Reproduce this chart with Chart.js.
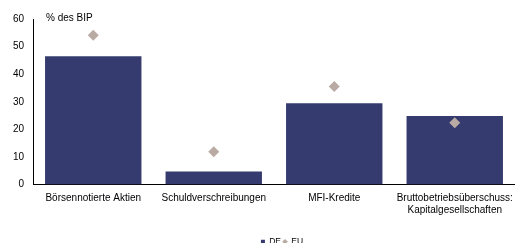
<!DOCTYPE html>
<html>
<head>
<meta charset="utf-8">
<script src="https://cdn.jsdelivr.net/npm/chart.js@4/dist/chart.umd.min.js"></script>
<style>
  html, body { margin: 0; padding: 0; background: #ffffff; }
  #wrap { width: 515px; height: 243px; position: relative; }
</style>
</head>
<body>
<div id="wrap"><canvas id="c" width="515" height="243"></canvas></div>
<script>
const categories = [
  "Börsennotierte Aktien",
  "Schuldverschreibungen",
  "MFI-Kredite",
  ["Bruttobetriebsüberschuss:", "Kapitalgesellschaften"]
];
const deValues = [46.5, 4.7, 29.5, 24.8];
const euValues = [54.1, 11.9, 35.5, 22.4];
const yTicks = [0, 10, 20, 30, 40, 50, 60];
const unitLabel = "% des BIP";

const FONT = "'Liberation Sans', Arial, sans-serif";

const unitPlugin = {
  id: 'unitLabel',
  afterLayout(chart) {
    const lg = chart.legend;
    if (lg) { lg.left += 8; lg.right += 8; }
  },
  afterDraw(chart) {
    const ctx = chart.ctx;
    const a = chart.chartArea;
    ctx.save();
    ctx.font = "10px " + FONT;
    ctx.fillStyle = "#000000";
    ctx.textAlign = "left";
    ctx.textBaseline = "middle";
    ctx.fillText(unitLabel, a.left + 13, a.top - 1);
    ctx.restore();
  }
};

new Chart(document.getElementById('c'), {
  type: 'bar',
  data: {
    labels: categories,
    datasets: [
      {
        label: 'DE',
        data: deValues,
        backgroundColor: '#353b6e',
        borderWidth: 0,
        categoryPercentage: 0.8,
        barPercentage: 1.0,
        pointStyle: 'rect',
        order: 2
      },
      {
        label: 'EU',
        type: 'line',
        data: euValues,
        showLine: false,
        pointStyle: 'rectRot',
        pointRadius: 5.5,
        pointHoverRadius: 5.5,
        pointBackgroundColor: '#b9aba3',
        pointBorderColor: '#b9aba3',
        pointBorderWidth: 0,
        backgroundColor: '#b9aba3',
        borderColor: '#b9aba3',
        order: 1
      }
    ]
  },
  options: {
    responsive: false,
    animation: false,
    devicePixelRatio: 1,
    layout: { autoPadding: false, padding: { left: 0, right: 0, top: 19, bottom: -13 } },
    plugins: {
      title: { display: false },
      tooltip: { enabled: false },
      legend: {
        display: true,
        position: 'bottom',
        fullSize: false,
        labels: {
          usePointStyle: true,
          boxWidth: 4,
          boxHeight: 4,
          padding: 2,
          color: '#000000',
          font: { family: FONT, size: 8.5 },
          sort: (a, b) => a.datasetIndex - b.datasetIndex
        }
      }
    },
    scales: {
      x: {
        grid: { display: false, drawTicks: false },
        border: { display: true, color: '#000000', width: 1 },
        ticks: {
          color: '#000000',
          padding: 8,
          maxRotation: 0,
          autoSkip: false,
          font: { family: FONT, size: 10, lineHeight: 1.15 }
        },
        afterFit(scale) {
          scale.height = 51;
          scale.paddingLeft = 0;
          scale.paddingRight = 0;
        }
      },
      y: {
        min: 0,
        max: 60,
        afterBuildTicks(scale) { scale.ticks = yTicks.map(v => ({ value: v })); },
        grid: { display: false, drawTicks: false },
        border: { display: true, color: '#000000', width: 1 },
        ticks: {
          color: '#000000',
          padding: 9,
          font: { family: FONT, size: 10 }
        },
        afterFit(scale) { scale.width = 33; }
      }
    }
  },
  plugins: [unitPlugin]
});
</script>
</body>
</html>
